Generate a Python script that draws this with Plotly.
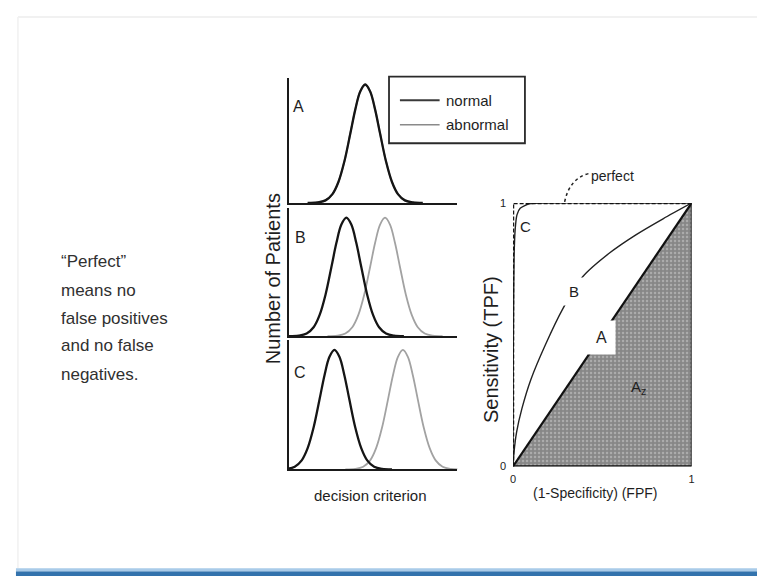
import plotly.graph_objects as go

W, H = 765, 576

# ---------------- data ----------------
# shape of each distribution (offset from its centre, relative height)
dist_offsets = [-58, -48, -40, -33, -27, -21, -15, -10, -5, 0, 5, 10, 15, 21, 27, 33, 40, 48, 58]
dist_heights = [0.0, 0.004, 0.022, 0.075, 0.177, 0.35, 0.586, 0.788, 0.942, 1.0,
                0.942, 0.788, 0.586, 0.35, 0.177, 0.075, 0.022, 0.004, 0.0]
panels = ["A", "B", "C"]
normal_centers = [77, 58, 46]
abnormal_centers = [77, 97, 115]
series_names = ["normal", "abnormal"]

# ROC curves (FPF, TPF)
roc_B_fpf = [0, 0.005, 0.02, 0.05, 0.10, 0.18, 0.28, 0.39, 0.54, 0.69, 0.84, 1.0]
roc_B_tpf = [0, 0.05, 0.13, 0.22, 0.33, 0.46, 0.60, 0.72, 0.81, 0.88, 0.94, 1.0]
roc_C_fpf = [0, 0.001, 0.003, 0.006, 0.012, 0.022, 0.04, 0.09, 0.2, 0.5, 1.0]
roc_C_tpf = [0, 0.35, 0.60, 0.80, 0.90, 0.955, 0.98, 0.997, 1.0, 1.0, 1.0]
roc_A_fpf = [0, 1]
roc_A_tpf = [0, 1]
perfect_fpf = [0, 0, 1]
perfect_tpf = [0, 1, 1]
roc_ticks = [0, 1]
roc_ticktext = ["0", "1"]

side_text = ["\u201cPerfect\u201d", "means no", "false positives", "and no false", "negatives."]


def px(x):
    return x / W


def py(y):
    return 1 - y / H


fig = go.Figure()

# ---------------- distribution panels ----------------
panel_tops = [65, 198, 333]
panel_bases = [193, 329, 465]
panel_yr = [1.058, 1.083, 1.082]
dx0, dx1 = 280, 450

for i, p in enumerate(panels):
    n = i + 1
    xa = "x" if n == 1 else f"x{n}"
    ya = "y" if n == 1 else f"y{n}"
    for name, c, col, wd in [("abnormal", abnormal_centers[i], "#a2a2a2", 1.8),
                             ("normal", normal_centers[i], "#151515", 2.3)]:
        fig.add_trace(go.Scatter(
            x=[c + o for o in dist_offsets], y=dist_heights,
            mode="lines", line=dict(color=col, width=wd, shape="spline", smoothing=1.0),
            name=name, showlegend=False, xaxis=xa, yaxis=ya, cliponaxis=False))
    lay_x = "xaxis" if n == 1 else f"xaxis{n}"
    lay_y = "yaxis" if n == 1 else f"yaxis{n}"
    fig.update_layout(**{
        lay_x: dict(domain=[px(dx0), px(dx1)], range=[0, 170], anchor=ya,
                    showline=True, linecolor="#1a1a1a", linewidth=2,
                    showgrid=False, zeroline=False, showticklabels=False, ticks=""),
        lay_y: dict(domain=[py(panel_bases[i]), py(panel_tops[i])], range=[0, panel_yr[i]],
                    anchor=xa, showline=True, linecolor="#1a1a1a", linewidth=1.6,
                    showgrid=False, zeroline=False, showticklabels=False, ticks=""),
    })

# ---------------- ROC panel ----------------
rx0, rx1, ry0, ry1 = 506, 686, 193, 462
fig.add_trace(go.Scatter(
    x=[0, 1, 1, 0], y=[0, 0, 1, 0], fill="toself", mode="lines",
    fillcolor="#888888", line=dict(width=0),
    fillpattern=dict(shape=".", fgcolor="#cfcfcf", bgcolor="#878787", size=4, solidity=0.3),
    xaxis="x4", yaxis="y4", showlegend=False, hoverinfo="skip"))
fig.add_trace(go.Scatter(x=[1, 1], y=[0, 1], mode="lines", line=dict(color="#111", width=1.8),
                         xaxis="x4", yaxis="y4", showlegend=False, cliponaxis=False))
fig.add_trace(go.Scatter(x=[0, 1], y=[0, 0], mode="lines", line=dict(color="#111", width=2.2),
                         xaxis="x4", yaxis="y4", showlegend=False, cliponaxis=False))
fig.add_trace(go.Scatter(x=roc_A_fpf, y=roc_A_tpf, mode="lines", line=dict(color="#111", width=2.2),
                         name="A", xaxis="x4", yaxis="y4", showlegend=False, cliponaxis=False))
fig.add_trace(go.Scatter(x=roc_B_fpf, y=roc_B_tpf, mode="lines",
                         line=dict(color="#222", width=1.4, shape="spline", smoothing=0.8),
                         name="B", xaxis="x4", yaxis="y4", showlegend=False, cliponaxis=False))
fig.add_trace(go.Scatter(x=roc_C_fpf, y=roc_C_tpf, mode="lines",
                         line=dict(color="#222", width=1.4, shape="spline", smoothing=0.6),
                         name="C", xaxis="x4", yaxis="y4", showlegend=False, cliponaxis=False))
fig.add_trace(go.Scatter(x=perfect_fpf, y=perfect_tpf, mode="lines",
                         line=dict(color="#111", width=2.4, dash="4px,2px"),
                         name="perfect", xaxis="x4", yaxis="y4", showlegend=False, cliponaxis=False))

FONT = "Liberation Sans, Arial, sans-serif"

fig.update_layout(
    xaxis4=dict(domain=[px(rx0), px(rx1)], range=[0, 1], anchor="y4",
                showgrid=False, zeroline=False, showline=False,
                tickvals=roc_ticks, ticktext=roc_ticktext, ticks="", ticklabelstandoff=5,
                tickfont=dict(size=11, color="#222", family=FONT)),
    yaxis4=dict(domain=[py(ry1), py(ry0)], range=[0, 1], anchor="x4",
                showgrid=False, zeroline=False, showline=False,
                tickvals=roc_ticks, ticktext=roc_ticktext, ticks="", ticklabelstandoff=6,
                tickfont=dict(size=11, color="#222", family=FONT)),
)

ann = []


def text(x, y, t, size, angle=0, color="#1e1e1e", family=FONT, xanchor="center", **kw):
    ann.append(dict(x=px(x), y=py(y), xref="paper", yref="paper", text=t, showarrow=False,
                    textangle=angle, xanchor=xanchor, yanchor="middle",
                    font=dict(size=size, color=color, family=family), **kw))


# side text
for line, yy in zip(side_text, [253, 282, 311, 339, 368]):
    text(48, yy, line, 17, color="#303030", xanchor="left")

# panel labels
for lab, (xx, yy) in zip(panels, [(290, 94), (292, 228), (291, 366)]):
    text(xx, yy, lab, 16)

# axis titles
text(264, 270, "Number of Patients", 20, angle=-90)
text(362, 492, "decision criterion", 15)
text(484, 343, "Sensitivity (TPF)", 20, angle=-90)
text(589, 489, "(1-Specificity) (FPF)", 14)

# ROC labels
text(519, 217, "C", 15)
ann.append(dict(x=0.339, y=0.665, xref="x4", yref="y4", text="B", showarrow=False,
                bgcolor="white", borderpad=5,
                font=dict(size=15, color="#1e1e1e", family=FONT)))
ann.append(dict(x=0.494, y=0.49, xref="x4", yref="y4", text="A", showarrow=False,
                bgcolor="white", borderpad=8,
                font=dict(size=16, color="#1e1e1e", family=FONT)))
ann.append(dict(x=0.70, y=0.30, xref="x4", yref="y4", text="A<sub>z</sub>", showarrow=False,
                font=dict(size=15, color="#1e1e1e", family=FONT)))
text(606, 165, "perfect", 14, xanchor="center")

# legend (drawn)
for name, yy in [("normal", 88), ("abnormal", 113)]:
    text(436, yy, name, 15, xanchor="left")

fig.update_layout(annotations=ann)

shapes = [
    # legend box
    dict(type="rect", xref="paper", yref="paper", x0=px(381), x1=px(518), y0=py(132), y1=py(64),
         line=dict(color="#2a2a2a", width=1.8), fillcolor="rgba(0,0,0,0)"),
    dict(type="line", xref="paper", yref="paper", x0=px(392), x1=px(432), y0=py(88), y1=py(88),
         line=dict(color="#3a3a3a", width=2)),
    dict(type="line", xref="paper", yref="paper", x0=px(392), x1=px(432), y0=py(113), y1=py(113),
         line=dict(color="#8a8a8a", width=1.5)),
    # perfect arrow (dashed)
    dict(type="path", xref="paper", yref="paper",
         path=f"M {px(582)} {py(163)} Q {px(563)} {py(168)} {px(558)} {py(192)}",
         line=dict(color="#222", width=1.5, dash="3px,3px")),
    # slide frame
    dict(type="line", xref="paper", yref="paper", x0=px(7), x1=1, y0=py(3), y1=py(3),
         line=dict(color="#ececec", width=1.5)),
    dict(type="line", xref="paper", yref="paper", x0=px(7), x1=px(7), y0=py(3), y1=py(566),
         line=dict(color="#f1f1f1", width=1.5)),
    # bottom bar
    dict(type="rect", xref="paper", yref="paper", x0=px(5), x1=1, y0=py(569), y1=0,
         line=dict(width=0), fillcolor="#3373ad", layer="above"),
    dict(type="rect", xref="paper", yref="paper", x0=px(5), x1=1, y0=py(566), y1=py(569),
         line=dict(width=0), fillcolor="#a9cbe9", layer="above"),
]
fig.update_layout(shapes=shapes)

fig.update_layout(
    width=W, height=H, margin=dict(l=0, r=0, t=0, b=0),
    paper_bgcolor="white", plot_bgcolor="rgba(0,0,0,0)",
    showlegend=False, font=dict(family=FONT, color="#1e1e1e"),
)

fig.write_html("out.html")
